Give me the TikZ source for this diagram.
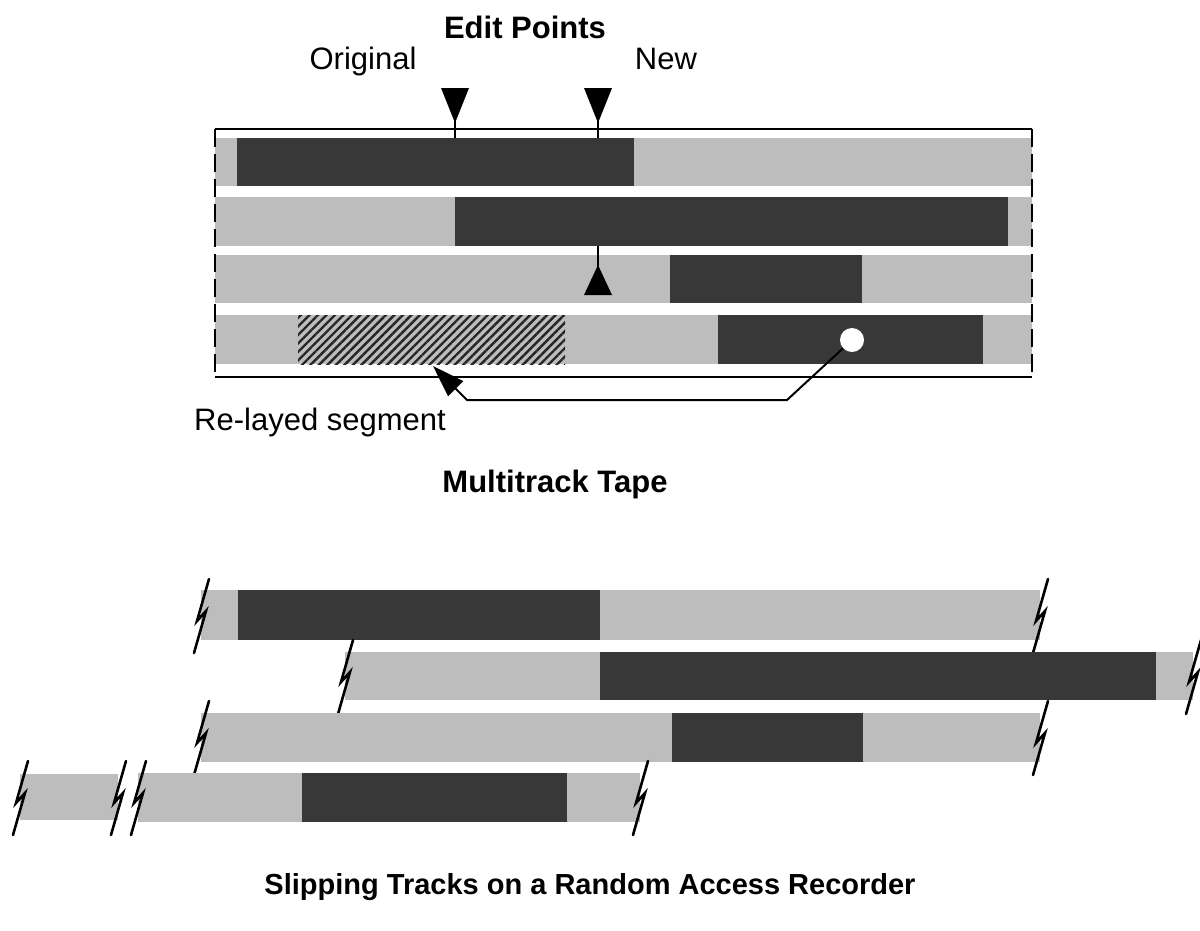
\documentclass[tikz,border=0pt]{standalone}
\usepackage{fontspec}
\setmainfont{Liberation Sans}
\usetikzlibrary{arrows.meta,patterns.meta}

\definecolor{lighttone}{gray}{0.74}
\definecolor{darktone}{gray}{0.22}

\tikzset{
  light/.style={fill=lighttone},
  dark/.style={fill=darktone},
  hatch/.style={draw=none, inner sep=0pt, fill=white,
    pattern={Lines[angle=45,distance=6pt,line width=2.4pt]}, pattern color=black!85},
  tapeedge/.style={line width=2.2pt},
  sideedge/.style={line width=2pt, dash pattern=on 18pt off 7pt},
  marker/.style={fill=black},
  link/.style={line width=2pt, -{Triangle[length=32pt,width=21pt]}},
  breakline/.style={line width=2.6pt, line cap=round, line join=miter},
  brk/.pic={\draw[breakline] (8,-36) -- (-4,6) -- (5,-4) -- (-7,38);},
  title/.style={font=\fontsize{31}{36}\selectfont\bfseries, anchor=base},
  caption/.style={font=\fontsize{29}{34}\selectfont\bfseries, anchor=base},
  label/.style={font=\fontsize{31}{36}\selectfont, anchor=base},
}

\begin{document}
\begin{tikzpicture}[x=1pt, y=-1pt]
\useasboundingbox (0,0) rectangle (1200,930);

% ---------- Multitrack tape ----------
\node[title] (editpts) at (525,38) {Edit Points};
\node[label] (orig) at (363,69) {Original};
\node[label] (new) at (666,69) {New};

% track 1
\fill[light] (215,138) rectangle (1032,186);
\fill[dark]  (237,138) rectangle (634,186);
% track 2
\fill[light] (215,197) rectangle (1032,246);
\fill[dark]  (455,197) rectangle (1008,246);
% track 3
\fill[light] (215,255) rectangle (1032,303);
\fill[dark]  (670,255) rectangle (862,303);
% track 4
\fill[light] (215,315) rectangle (1032,364);
\node[hatch, minimum width=267pt, minimum height=49pt] (relayed) at (431.5,339.5) {};
\fill[dark]  (718,315) rectangle (983,364);
\node[circle, fill=white, inner sep=0pt, minimum size=24pt] (circ) at (852,340) {};

% tape borders
\draw[tapeedge] (215,129) -- (1032,129);
\draw[tapeedge] (215,377) -- (1032,377);
\draw[sideedge] (215,129) -- (215,377);
\draw[sideedge] (1032,129) -- (1032,377);

% edit point markers
\fill[marker] (441,88) -- (469,88) -- (455,123) -- cycle;
\draw[line width=1.6pt] (455,110) -- (455,138);
\fill[marker] (584,88) -- (612,88) -- (598,123) -- cycle;
\draw[line width=1.6pt] (598,110) -- (598,138);
\fill[marker] (584,295) -- (612,295) -- (598,265) -- cycle;
\draw[line width=1.6pt] (598,246) -- (598,280);

% re-layed segment pointer
\coordinate (tip) at (433,366);
\draw[link] (circ) -- (787,400) -- (467,400) -- (tip);
\node[label] (relabel) at (320,430) {Re-layed segment};

\node[title] (mtape) at (555,492) {Multitrack Tape};

% ---------- Random access recorder ----------
% track A
\fill[light] (201,590) rectangle (1040,640);
\fill[dark]  (238,590) rectangle (600,640);
\pic at (201,615) {brk};
\pic at (1040,615) {brk};
% track B
\fill[light] (345,652) rectangle (1193,700);
\fill[dark]  (600,652) rectangle (1156,700);
\pic at (345,676) {brk};
\pic at (1193,676) {brk};
% track C
\fill[light] (201,713) rectangle (1040,762);
\fill[dark]  (672,713) rectangle (863,762);
\pic at (201,737) {brk};
\pic at (1040,737) {brk};
% track D
\fill[light] (138,773) rectangle (640,822);
\fill[dark]  (302,773) rectangle (567,822);
\pic at (138,797) {brk};
\pic at (640,797) {brk};
% loose fragment
\fill[light] (20,774) rectangle (118,820);
\pic at (20,797) {brk};
\pic at (118,797) {brk};

\node[caption] (slip) at (590,894) {Slipping Tracks on a Random Access Recorder};
\end{tikzpicture}
\end{document}
